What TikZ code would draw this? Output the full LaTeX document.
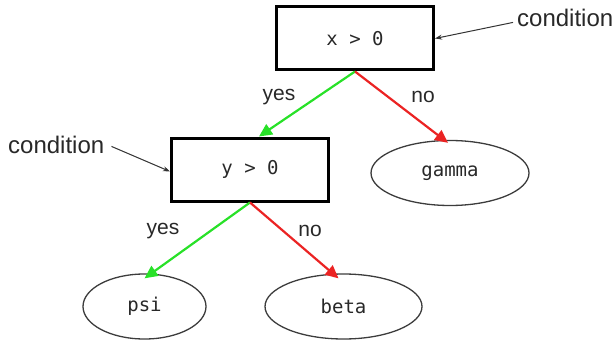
\documentclass[tikz,border=0pt]{standalone}
\usepackage{xcolor}
\usepackage{fontspec}
\setmainfont{Liberation Sans}
\setmonofont{DejaVu Sans Mono}
\usepackage{tikz}
\usetikzlibrary{shapes.geometric,arrows.meta}

\definecolor{yesgreen}{RGB}{40,225,40}
\definecolor{nored}{RGB}{235,35,35}
\definecolor{leafgray}{RGB}{60,60,60}
\definecolor{inkgray}{RGB}{40,40,40}

\begin{document}
\begin{tikzpicture}[x=1pt,y=1pt,yscale=-1,xscale=1,
    testbox/.style={draw,line width=3pt,minimum width=157pt,minimum height=63pt,text=inkgray,font=\ttfamily\fontsize{19}{21}\selectfont},
    leaf/.style={draw=leafgray,ellipse,line width=1.3pt,minimum height=65pt,text=inkgray,font=\ttfamily\fontsize{19}{21}\selectfont},
    yesarrow/.style={draw=yesgreen,line width=2.2pt,-{Triangle[length=13pt,width=12pt]}},
    noarrow/.style={draw=nored,line width=2.2pt,-{Triangle[length=13pt,width=12pt]}},
    note/.style={font=\fontsize{24}{26}\selectfont,text=inkgray,inner sep=0pt},
    branch/.style={font=\fontsize{21}{24}\selectfont,text=inkgray,inner sep=0pt},
    pointer/.style={draw=black!80,line width=1pt,-{Stealth[length=7pt,width=5pt]}}]
            \useasboundingbox (0,0) rectangle (615,342);

            \node [testbox] (xtest) at (355,38.5) {x > 0};
            \node [testbox] (ytest) at (250,169.5) {y > 0};
            \node [leaf,minimum width=158pt] (gamma) at (450,173) {gamma};
            \node [leaf,minimum width=123pt] (psi) at (144.5,306.5) {psi};
            \node [leaf,minimum width=157pt] (beta) at (343.5,306.5) {beta};

            \node [note,anchor=base west] (condright) at (517,27) {condition};
            \node [note,anchor=base west] (condleft) at (8,153) {condition};

            \node [branch] (yesx) at (279,97) {yes};
            \node [branch] (nox) at (423,97) {no};
            \node [branch] (yesy) at (163,231) {yes};
            \node [branch] (noy) at (310,231) {no};

            \draw [yesarrow] (xtest.south) -- ([xshift=9pt]ytest.north);
            \draw [noarrow] (xtest.south) -- ([xshift=-2pt,yshift=3pt]gamma.north);
            \draw [yesarrow] (ytest.south) -- ([yshift=5pt]psi.north);
            \draw [noarrow] (ytest.south) -- ([xshift=-5pt,yshift=5pt]beta.north);

            \draw [pointer] ([xshift=-4pt,yshift=4pt]condright.west) -- (xtest.east);
            \draw [pointer] ([xshift=7pt,yshift=2pt]condleft.east) -- ([yshift=2pt]ytest.west);
\end{tikzpicture}
\end{document}
